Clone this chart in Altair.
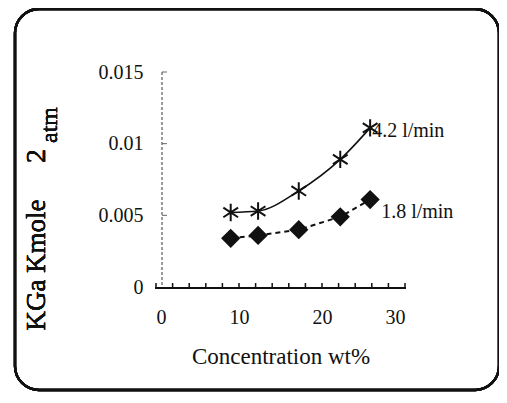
import altair as alt
import pandas as pd

conc = [9.0, 12.3, 17.2, 22.2, 25.8]
kga_42 = [0.0052, 0.0053, 0.0067, 0.0089, 0.0111]
kga_18 = [0.0034, 0.0036, 0.0040, 0.0049, 0.0061]
x_ticks = list(range(0, 31, 2))
y_ticks = [0.005, 0.01, 0.015]
x_labels = [0, 10, 20, 30]
y_labels = [0, 0.005, 0.01, 0.015]

FONT = "Liberation Serif"
INK = "#111"
W, H = 249, 215

d42 = pd.DataFrame({"c": conc, "k": kga_42})
d18 = pd.DataFrame({"c": conc, "k": kga_18})
dxt = pd.DataFrame({"c": x_ticks})
dyt = pd.DataFrame({"k": y_ticks})

xs = alt.Scale(domain=[0, 30], nice=False, zero=False)
ys = alt.Scale(domain=[0, 0.015], nice=False, zero=False)

X = alt.X("c:Q", scale=xs,
          axis=alt.Axis(values=x_labels, domain=False, ticks=False, grid=False,
                        labelPadding=20, labelFontSize=20, labelFont=FONT,
                        labelColor=INK, title="Concentration wt%",
                        titleFont=FONT, titleFontSize=23, titleFontWeight="normal",
                        titleColor=INK, titlePadding=18))
Y = alt.Y("k:Q", scale=ys,
          axis=alt.Axis(values=y_labels, format=".3~f", domain=False, ticks=False,
                        grid=False, labelPadding=13, labelFontSize=20, labelFont=FONT,
                        labelColor=INK, title=None))

base42 = alt.Chart(d42)
base18 = alt.Chart(d18)

frame = alt.Chart(d42).mark_rect(fill=None, stroke=INK, strokeWidth=2.4,
                                 cornerRadius=24).encode(
    x=alt.value(-141), x2=alt.value(343), y=alt.value(-63), y2=alt.value(318))

yline = alt.Chart(d42).mark_rule(color="#999", strokeWidth=1, strokeDash=[3, 2]).encode(
    x=alt.value(6), y=alt.value(0), y2=alt.value(H))
yticks = alt.Chart(dyt).mark_rule(color="#666", strokeWidth=1).encode(
    y=alt.Y("k:Q", scale=ys), x=alt.value(6), x2=alt.value(11))
xline = alt.Chart(d42).mark_rule(color=INK, strokeWidth=2).encode(
    x=alt.value(-1), x2=alt.value(W + 1), y=alt.value(H + 1))
xticks = alt.Chart(dxt).mark_rule(color=INK, strokeWidth=1.5).encode(
    x=alt.X("c:Q", scale=xs), y=alt.value(H + 1), y2=alt.value(H - 4))

line42 = base42.mark_line(color=INK, strokeWidth=1.6, interpolate="monotone").encode(x=X, y=Y)
star = "M0,-1L0,1M-0.85,-0.55L0.85,0.55M-0.85,0.55L0.85,-0.55"
pts42 = base42.mark_point(shape=star, size=300, stroke=INK, strokeWidth=2,
                          filled=False, opacity=1).encode(x=X, y=Y)

line18 = base18.mark_line(color=INK, strokeWidth=2, strokeDash=[5, 4]).encode(x=X, y=Y)
pts18 = base18.mark_point(shape="diamond", size=270, fill=INK, stroke=INK,
                          filled=True, opacity=1).encode(x=X, y=Y)

lab42 = alt.Chart(pd.DataFrame({"c": [conc[-1]], "k": [kga_42[-1]], "t": ["4.2 l/min"]})).mark_text(
    align="left", baseline="middle", dx=2, dy=3, font=FONT, fontSize=20, color=INK).encode(
    x=alt.X("c:Q", scale=xs), y=alt.Y("k:Q", scale=ys), text="t:N")
lab18 = alt.Chart(pd.DataFrame({"c": [conc[-1]], "k": [kga_18[-1]], "t": ["1.8 l/min"]})).mark_text(
    align="left", baseline="middle", dx=11, dy=12, font=FONT, fontSize=20, color=INK).encode(
    x=alt.X("c:Q", scale=xs), y=alt.Y("k:Q", scale=ys), text="t:N")

t1 = alt.Chart(d42).mark_text(text="KGa  Kmole", angle=270, align="center", baseline="middle",
                              font=FONT, fontSize=27, color=INK).encode(
    x=alt.value(-119), y=alt.value(193))
t2 = alt.Chart(d42).mark_text(text="2", angle=270, align="center", baseline="middle",
                              font=FONT, fontSize=28, color=INK).encode(
    x=alt.value(-119), y=alt.value(84))
t3 = alt.Chart(d42).mark_text(text="atm", angle=270, align="center", baseline="middle",
                              font=FONT, fontSize=24, color=INK).encode(
    x=alt.value(-106), y=alt.value(53))

chart = alt.layer(frame, yline, yticks, xline, xticks, line18, pts18, line42, pts42,
                  lab42, lab18, t1, t2, t3).properties(
    width=W, height=H,
    autosize=alt.AutoSizeParams(type="none"),
    padding={"left": 148, "top": 64, "right": 94, "bottom": 108},
    background="white",
).configure_view(stroke=None)

chart.save("out.html", embed_options={"renderer": "svg", "actions": False})
